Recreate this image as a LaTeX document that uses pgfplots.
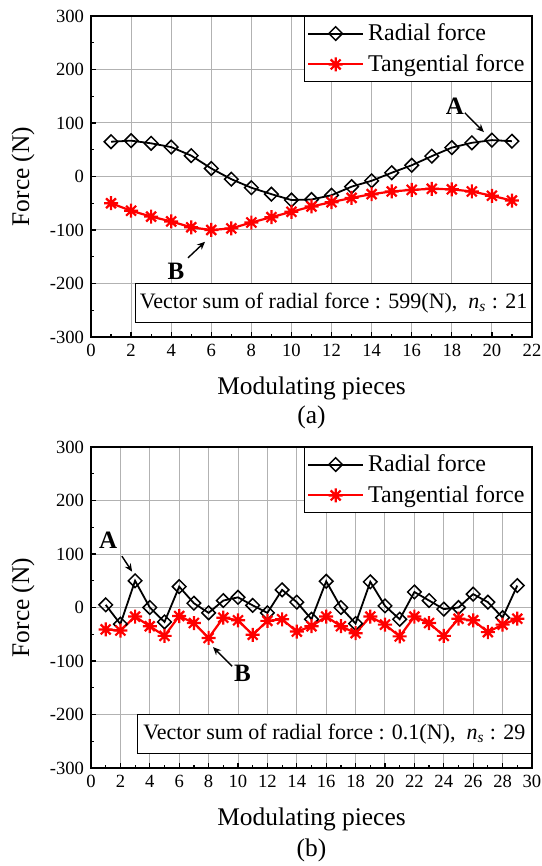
\documentclass[border=0pt]{standalone}
\usepackage{fontspec}
\setmainfont{Liberation Serif}
\usepackage{pgfplots}
\pgfplotsset{compat=1.18}
\usepackage{pgfplotstable}
\usetikzlibrary{arrows.meta}

% eight-spoke asterisk, as in the original plot
\pgfdeclareplotmark{ast8}{%
  \pgfpathmoveto{\pgfqpoint{-\pgfplotmarksize}{0pt}}\pgfpathlineto{\pgfqpoint{\pgfplotmarksize}{0pt}}%
  \pgfpathmoveto{\pgfqpoint{0pt}{-\pgfplotmarksize}}\pgfpathlineto{\pgfqpoint{0pt}{\pgfplotmarksize}}%
  \pgfpathmoveto{\pgfqpoint{-0.707\pgfplotmarksize}{-0.707\pgfplotmarksize}}%
  \pgfpathlineto{\pgfqpoint{0.707\pgfplotmarksize}{0.707\pgfplotmarksize}}%
  \pgfpathmoveto{\pgfqpoint{-0.707\pgfplotmarksize}{0.707\pgfplotmarksize}}%
  \pgfpathlineto{\pgfqpoint{0.707\pgfplotmarksize}{-0.707\pgfplotmarksize}}%
  \pgfusepathqstroke}

% panel (a): 21 pieces
\pgfplotstableread{
x  rad  tan
1   65  -50
2   67  -64
3   62  -75
4   55  -84
5   39  -95
6   15  -100
7   -5  -97
8   -21 -86
9   -33 -76
10  -44 -66
11  -43 -56
12  -35 -48
13  -19 -40
14  -8  -33
15  7   -28
16  21  -25
17  38  -23
18  54  -24
19  63  -28
20  68  -36
21  66  -45
}\dataA

% panel (b): 29 pieces
\pgfplotstableread{
x  rad  tan
1   5   -41
2   -31 -43
3   50  -17
4   0   -35
5   -27 -53
6   39  -16
7   8   -29
8   -10 -57
9   13  -19
10  19  -24
11  4   -51
12  -10 -25
13  33  -22
14  10  -45
15  -22 -35
16  49  -17
17  0   -35
18  -30 -48
19  48  -17
20  3   -32
21  -22 -54
22  29  -17
23  13  -29
24  -3  -53
25  0   -21
26  25  -24
27  10  -46
28  -19 -32
29  41  -21
}\dataB

\tikzset{
  sumbox/.style={draw=black, line width=0.6pt, fill=white, anchor=south east,
    minimum width=197pt, minimum height=19.5pt, inner sep=2pt,
    font=\fontsize{11}{12}\selectfont},
  letter/.style={font=\bfseries\fontsize{12.5}{13}\selectfont},
  pointer/.style={-{Stealth[length=4pt, width=3.5pt]}, line width=0.7pt},
}

\pgfplotsset{
  radial/.style={black, line width=0.9pt, mark=square,
    mark size=2.4pt, mark options={fill=white, solid, line width=0.75pt, rotate=45}},
  tangential/.style={red, line width=1.1pt, mark=ast8,
    mark size=3.5pt, mark options={line width=1.1pt}},
  forceplot/.style={
    scale only axis, width=220.5pt, height=160.5pt,
    xmin=0, ymin=-300, ymax=300,
    ytick={-300,-200,...,300},
    minor x tick num=1, minor y tick num=1,
    grid=major, major grid style={black!30, line width=0.5pt},
    tick align=inside, xtick pos=left, ytick pos=left,
    major tick length=2.5pt, minor tick length=1.5pt,
    axis line style={line width=0.6pt},
    every tick/.style={black, line width=0.6pt},
    tick label style={font=\fontsize{9.3}{10}\selectfont},
    /pgf/number format/assume math mode=true,
    xlabel={Modulating pieces}, ylabel={Force (N)},
    label style={font=\fontsize{12.7}{14}\selectfont},
    xlabel style={at={(axis description cs:0.5,-0.159)}, anchor=center},
    ylabel style={at={(axis description cs:-0.154,0.5)}, anchor=center},
    clip=false,
    legend style={at={(1,1)}, anchor=north east, draw=black, line width=0.6pt,
      fill=white, font=\fontsize{12}{13}\selectfont, inner sep=1.5pt,
      row sep=1.5pt, cells={anchor=west}},
    legend image code/.code={%
      \draw[mark repeat=2, mark phase=2, line width=1pt]
        plot coordinates {(0pt,0pt) (13.75pt,0pt) (27.5pt,0pt)};},
  }
}

\begin{document}
\begin{tikzpicture}
\useasboundingbox (0,0) rectangle (270.5pt,433pt);

\begin{axis}[forceplot, at={(45.5pt,264.5pt)}, anchor=south west,
  xmax=22, xtick={0,2,...,22}]
  \addplot[radial] table[x=x, y=rad] {\dataA};
  \addplot[tangential] table[x=x, y=tan] {\dataA};
  \legend{Radial force, Tangential force}
  \node[sumbox] at ([yshift=7pt]rel axis cs:1,0)
    {Vector sum of radial force : 599(N),\ \ \textit{n}\textsubscript{\textit{s}} : 21};
  \node[letter] at (axis cs:18.15,132) {A};
  \draw[pointer] (axis cs:18.65,119) -- (axis cs:19.6,83);
  \node[letter] at (axis cs:4.24,-177) {B};
  \draw[pointer] (axis cs:4.84,-152) -- (axis cs:5.69,-122);
  \node[font=\fontsize{12.7}{14}\selectfont] at (axis description cs:0.5,-0.252) {(a)};
\end{axis}

\begin{axis}[forceplot, at={(45.5pt,49pt)}, anchor=south west,
  xmax=30, xtick={0,2,...,30}]
  \addplot[radial] table[x=x, y=rad] {\dataB};
  \addplot[tangential] table[x=x, y=tan] {\dataB};
  \legend{Radial force, Tangential force}
  \node[sumbox] at ([yshift=7pt]rel axis cs:1,0)
    {Vector sum of radial force : 0.1(N),\ \ \textit{n}\textsubscript{\textit{s}} : 29};
  \node[letter] at (axis cs:1.16,125) {A};
  \draw[pointer] (axis cs:2.1,96) -- (axis cs:2.8,67);
  \node[letter] at (axis cs:10.3,-124) {B};
  \draw[pointer] (axis cs:9.6,-110) -- (axis cs:8.3,-74);
  \node[font=\fontsize{12.7}{14}\selectfont] at (axis description cs:0.5,-0.258) {(b)};
\end{axis}
\end{tikzpicture}
\end{document}
